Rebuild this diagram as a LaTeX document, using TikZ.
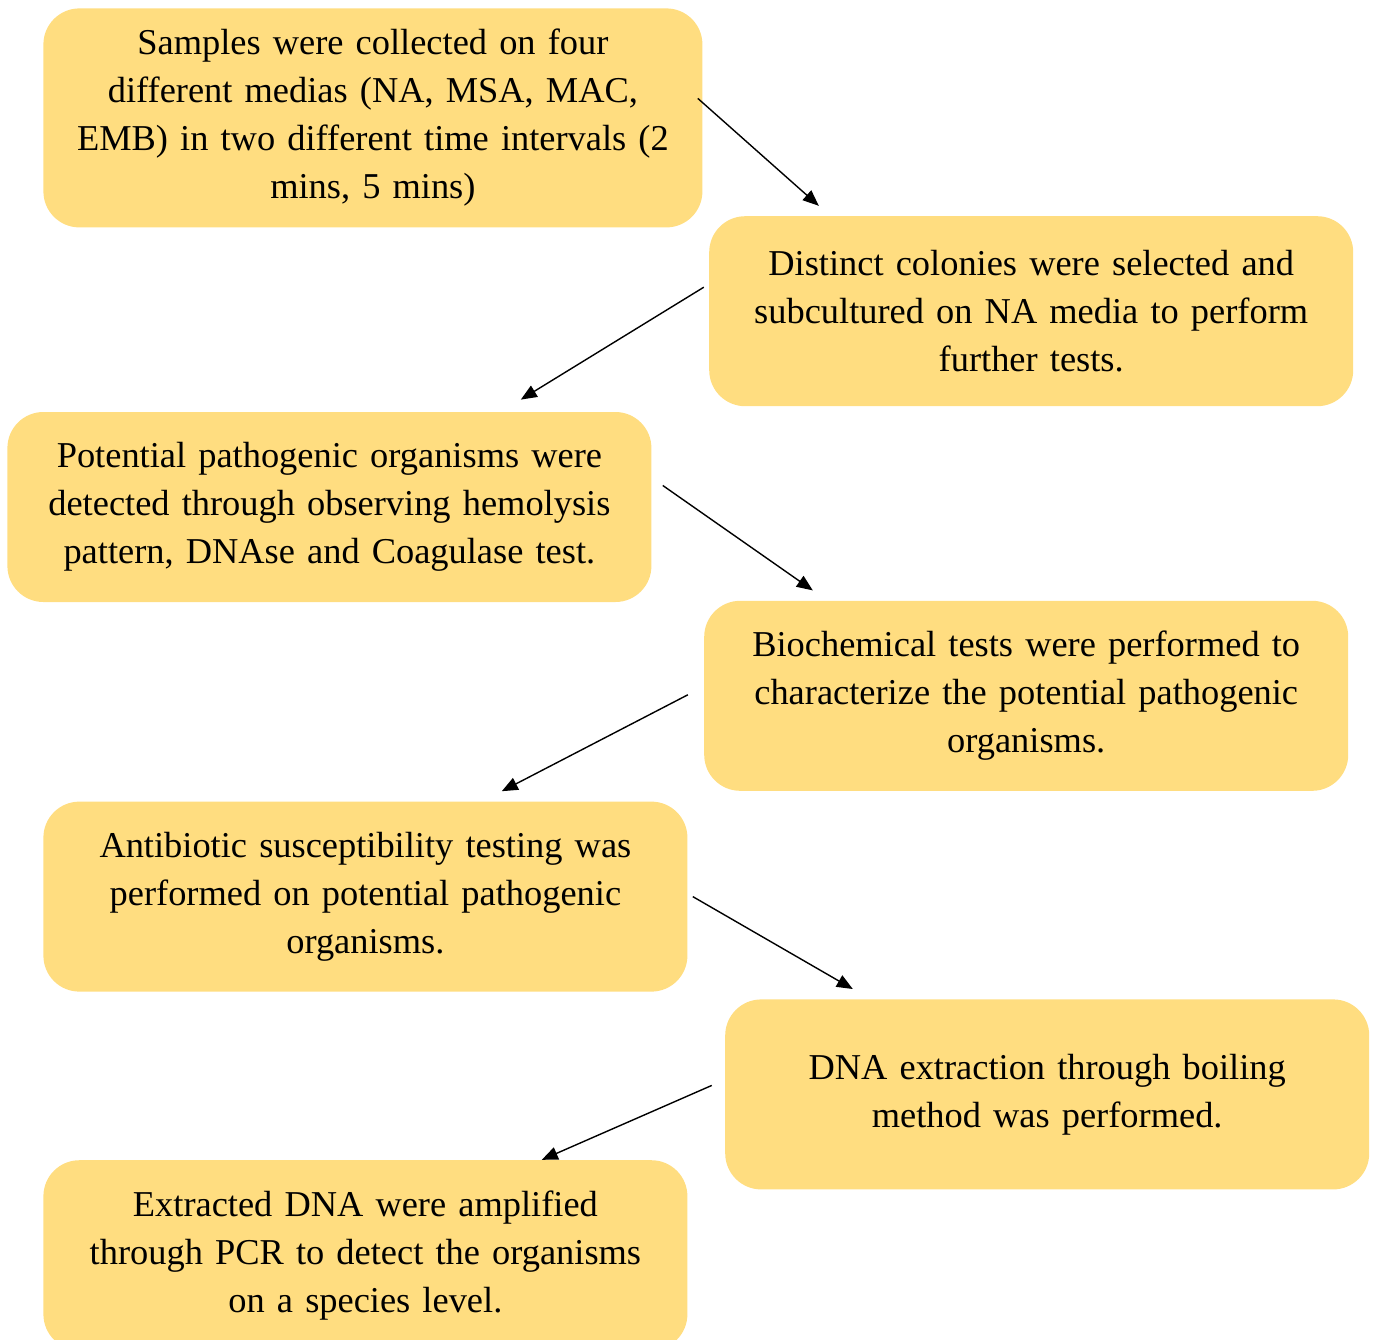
\documentclass[tikz,border=0pt]{standalone}
\usepackage{fontspec}
\setmainfont{Liberation Serif}
\usetikzlibrary{arrows.meta, positioning}
\definecolor{boxfill}{RGB}{255,221,128}

\begin{document}
\begin{tikzpicture}[
    box/.style={rectangle, fill=boxfill, rounded corners=18pt, inner sep=0pt, text width=322pt, minimum height=95pt, align=center, font=\fontsize{18.2pt}{24pt}\selectfont},
    arrow/.style={-{Triangle[length=8pt, width=6.5pt]}, line width=0.7pt}
]
    \useasboundingbox (0,0) rectangle (687pt,-669.5pt);

    % Nodes
    \node[box, text width=329.5pt, minimum height=109.5pt, anchor=north west] (collect) at (21.5pt,-4pt) {Samples were collected on four\\ different medias (NA, MSA, MAC,\\ EMB) in two different time intervals (2\\ mins, 5 mins)};
    \node[box, below right=-6pt and 3pt of collect.south east] (subculture) {Distinct colonies were selected and\\ subcultured on NA media to perform\\ further tests.};
    \node[box, below left=2.5pt and 28.5pt of subculture.south west] (detect) {Potential pathogenic organisms were\\ detected through observing hemolysis\\ pattern, DNAse and Coagulase test.};
    \node[box, below right=-1pt and 26pt of detect.south east] (biochem) {Biochemical tests were performed to\\ characterize the potential pathogenic\\ organisms.};
    \node[box, below left=5pt and 8pt of biochem.south west] (ast) {Antibiotic susceptibility testing was\\ performed on potential pathogenic\\ organisms.};
    \node[box, below right=3.5pt and 18.5pt of ast.south east] (extract) {DNA extraction through boiling\\ method was performed.};
    \node[box, below left=-15pt and 18.5pt of extract.south west] (pcr) {Extracted DNA were amplified\\ through PCR to detect the organisms\\ on a species level.};

    % Arrows
    \draw[arrow] ([shift={(-2.5pt,9.75pt)}]collect.east) -- ([shift={(55pt,5pt)}]subculture.north west);
    \draw[arrow] ([shift={(-2.5pt,12pt)}]subculture.west) -- ([shift={(-65.5pt,6pt)}]detect.north east);
    \draw[arrow] ([shift={(5.5pt,10.75pt)}]detect.east) -- ([shift={(54.5pt,5pt)}]biochem.north west);
    \draw[arrow] ([shift={(-8pt,0.5pt)}]biochem.west) -- ([shift={(-93pt,5pt)}]ast.north east);
    \draw[arrow] ([shift={(2.5pt,0pt)}]ast.east) -- ([shift={(64pt,5pt)}]extract.north west);
    \draw[arrow] ([shift={(-6.5pt,4.5pt)}]extract.west) -- ([shift={(-73pt,0pt)}]pcr.north east);

\end{tikzpicture}
\end{document}
